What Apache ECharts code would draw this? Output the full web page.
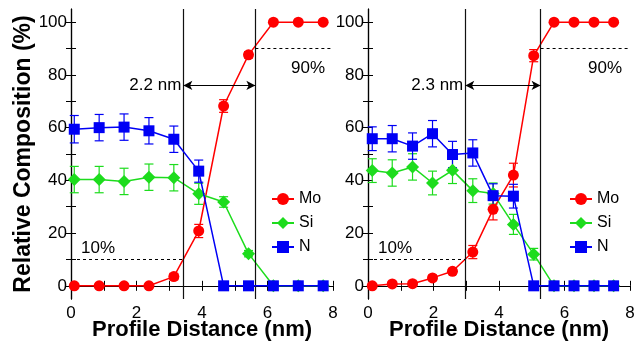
<!DOCTYPE html>
<html>
<head>
<meta charset="utf-8">
<script src="https://cdn.jsdelivr.net/npm/echarts@6/dist/echarts.min.js"></script>
<style>
  html, body { margin: 0; padding: 0; background: #fff; }
  #chart { width: 636px; height: 341px; }
</style>
</head>
<body>
<div id="chart"></div>
<script>
// left panel (2.2 nm interface)
var leftX = [0.1, 0.86, 1.62, 2.38, 3.14, 3.9, 4.66, 5.42, 6.18, 6.94, 7.7];
var leftMo = [0, 0, 0, 0, 3.5, 20.8, 68.2, 87.6, 100, 100, 100];
var leftMoErr = [0, 0, 0, 0, 1.2, 2.5, 2.4, 1.2, 0, 0, 0];
var leftSi = [40.3, 40.3, 39.6, 41.2, 41, 34.9, 31.8, 12.2, 0, 0, 0];
var leftSiErr = [5, 5, 5, 5, 5, 4, 2, 1.2, 0, 0, 0];
var leftN = [59.4, 60, 60.2, 58.8, 55.6, 43.5, 0, 0, 0, 0, 0];
var leftNErr = [5.2, 5, 5, 5, 5, 4.2, 0, 0, 0, 0, 0];
var leftEdges = [3.43, 5.63];

// right panel (2.3 nm interface)
var rightX = [0.13, 0.74, 1.36, 1.97, 2.58, 3.2, 3.82, 4.44, 5.06, 5.68, 6.29, 6.9, 7.5];
var rightMo = [0, 0.7, 0.8, 3, 5.5, 12.8, 29, 42, 87.3, 100, 100, 100, 100];
var rightMoErr = [0, 0, 0, 1, 1, 2.5, 4, 4.5, 2.3, 0, 0, 0, 0];
var rightSi = [43.7, 42.8, 45.1, 39, 43.8, 36.1, 35, 23.3, 12, 0, 0, 0, 0];
var rightSiErr = [4.5, 5, 5, 4.5, 5, 4.5, 4, 3.8, 2.2, 0, 0, 0, 0];
var rightN = [55.8, 55.8, 53, 57.7, 49.8, 50.4, 34.2, 34, 0, 0, 0, 0, 0];
var rightNErr = [4.5, 5, 5, 5, 5, 5, 4.5, 4.5, 0, 0, 0, 0, 0];
var rightEdges = [2.97, 5.27];

var xTickValues = [0, 1, 2, 3, 4, 5, 6, 7, 8];
var xLabelValues = [0, 2, 4, 6, 8];
var yTickValues = [0, 10, 20, 30, 40, 50, 60, 70, 80, 90, 100];
var yLabelValues = [0, 20, 40, 60, 80, 100];
var arrowY = 76;

var FONT = '"Liberation Sans", Arial, Helvetica, sans-serif';
var colors = { Mo: '#ff0000', Si: '#1ddc1d', N: '#0000f5' };
var symbols = { Mo: 'circle', Si: 'diamond', N: 'rect' };
var sizes = { Mo: 11, Si: [13, 13], N: 11 };

var chart = echarts.init(document.getElementById('chart'));

function pairs(xs, ys) {
    return xs.map(function (x, i) { return [x, ys[i]]; });
}
function triples(xs, ys, es) {
    return xs.map(function (x, i) { return [x, ys[i], es[i]]; });
}

function errorBar(params, api) {
    var x = api.value(0), y = api.value(1), e = api.value(2);
    if (!e) return null;
    var hi = api.coord([x, y + e]);
    var lo = api.coord([x, y - e]);
    var w = 4.5;
    var st = { stroke: api.visual('color'), lineWidth: 1.2 };
    return {
        type: 'group',
        children: [
            { type: 'line', shape: { x1: hi[0], y1: hi[1], x2: lo[0], y2: lo[1] }, style: st },
            { type: 'line', shape: { x1: hi[0] - w, y1: hi[1], x2: hi[0] + w, y2: hi[1] }, style: st },
            { type: 'line', shape: { x1: lo[0] - w, y1: lo[1], x2: lo[0] + w, y2: lo[1] }, style: st }
        ]
    };
}

function xAxes(grid, withName) {
    var tick = { show: true, inside: true, length: 5, customValues: xTickValues, lineStyle: { color: '#000', width: 1 } };
    return [{
        type: 'value', gridIndex: grid, position: 'bottom', min: 0, max: 8,
        axisLine: { lineStyle: { color: '#000', width: 1.2 } },
        axisTick: tick,
        axisLabel: { customValues: xLabelValues, fontSize: 17, color: '#000', fontFamily: FONT, margin: 6 },
        splitLine: { show: false },
        name: withName ? 'Profile Distance (nm)' : '',
        nameLocation: 'middle', nameGap: 20, nameMoveOverlap: false,
        nameTextStyle: { fontSize: 22, fontWeight: 'bold', color: '#000', fontFamily: FONT, verticalAlign: 'top' }
    }, {
        type: 'value', gridIndex: grid, position: 'top', min: 0, max: 8,
        axisLine: { lineStyle: { color: '#000', width: 1.2 } },
        axisTick: tick,
        axisLabel: { show: false },
        splitLine: { show: false }
    }];
}

function yAxes(grid, withName) {
    var tick = { show: true, inside: true, length: 5, customValues: yTickValues, lineStyle: { color: '#000', width: 1 } };
    return [{
        type: 'value', gridIndex: grid, position: 'left', min: -5, max: 105,
        axisLine: { show: true, lineStyle: { color: '#000', width: 1.2 } },
        axisTick: tick,
        axisLabel: { customValues: yLabelValues, fontSize: 17, color: '#000', fontFamily: FONT, margin: 4 },
        splitLine: { show: false },
        name: withName ? 'Relative Composition (%)' : '',
        nameLocation: 'middle', nameGap: 36, nameMoveOverlap: false,
        nameTextStyle: { fontSize: 23, fontWeight: 'bold', color: '#000', fontFamily: FONT }
    }, {
        type: 'value', gridIndex: grid, position: 'right', min: -5, max: 105,
        axisLine: { show: true, lineStyle: { color: '#000', width: 1.2 } },
        axisTick: tick,
        axisLabel: { show: false },
        splitLine: { show: false }
    }];
}

function annotations(edges, width) {
    var labelFont = { fontSize: 17, color: '#000', fontFamily: FONT };
    return {
        silent: true,
        symbol: 'none',
        animation: false,
        data: [
            { xAxis: edges[0], lineStyle: { type: 'solid', color: '#111', width: 1.2 }, label: { show: false } },
            { xAxis: edges[1], lineStyle: { type: 'solid', color: '#111', width: 1.2 }, label: { show: false } },
            [
                { coord: [0, 10], lineStyle: { type: [3, 3], color: '#000', width: 1 },
                  label: Object.assign({ show: true, position: 'insideStartTop', formatter: '10%', distance: [10, 3] }, labelFont) },
                { coord: [edges[0], 10] }
            ],
            [
                { coord: [edges[1], 90], lineStyle: { type: [3, 3], color: '#000', width: 1 },
                  label: Object.assign({ show: true, position: 'insideEndBottom', formatter: '90%', distance: [8, 11] }, labelFont) },
                { coord: [8, 90] }
            ],
            [
                { coord: [edges[0], arrowY], symbol: 'arrow', symbolSize: [7, 9], lineStyle: { type: 'solid', color: '#000', width: 1.2 },
                  label: Object.assign({ show: true, position: 'start', formatter: width, distance: 2 }, labelFont) },
                { coord: [edges[1], arrowY], symbol: 'arrow', symbolSize: [7, 9] }
            ]
        ]
    };
}

function panelSeries(grid, xs, sets, edges, width) {
    var out = [];
    ['Mo', 'Si', 'N'].forEach(function (name) {
        out.push({
            type: 'custom', name: name + ' err', xAxisIndex: grid * 2, yAxisIndex: grid * 2,
            renderItem: errorBar, itemStyle: { color: colors[name] },
            encode: { x: 0, y: 1 }, z: 2, silent: true,
            data: triples(xs, sets[name][0], sets[name][1])
        });
    });
    ['Mo', 'Si', 'N'].forEach(function (name, k) {
        var s = {
            type: 'line', name: name, xAxisIndex: grid * 2, yAxisIndex: grid * 2,
            symbol: symbols[name], symbolSize: sizes[name], showAllSymbol: true,
            itemStyle: { color: colors[name] },
            lineStyle: { color: colors[name], width: 1.5 },
            z: 3 + k, animation: false,
            data: pairs(xs, sets[name][0])
        };
        if (name === 'Mo') s.markLine = annotations(edges, width);
        out.push(s);
    });
    return out;
}

function legend(left) {
    return {
        left: left, top: 186, orient: 'vertical',
        itemWidth: 22, itemHeight: 15, itemGap: 8,
        data: ['Mo', 'Si', 'N'],
        textStyle: { fontSize: 16, color: '#000', fontFamily: FONT },
        selectedMode: false
    };
}

var option = {
    animation: false,
    grid: [
        { left: 71, top: 9, width: 262, height: 290, outerBoundsMode: 'none', containLabel: false },
        { left: 368, top: 9, width: 262, height: 290, outerBoundsMode: 'none', containLabel: false }
    ],
    legend: [legend(266), legend(564)],
    xAxis: xAxes(0, true).concat(xAxes(1, true)),
    yAxis: yAxes(0, true).concat(yAxes(1, false)),
    series: panelSeries(0, leftX, {
        Mo: [leftMo, leftMoErr], Si: [leftSi, leftSiErr], N: [leftN, leftNErr]
    }, leftEdges, '2.2 nm').concat(panelSeries(1, rightX, {
        Mo: [rightMo, rightMoErr], Si: [rightSi, rightSiErr], N: [rightN, rightNErr]
    }, rightEdges, '2.3 nm'))
};

chart.setOption(option);
</script>
</body>
</html>
